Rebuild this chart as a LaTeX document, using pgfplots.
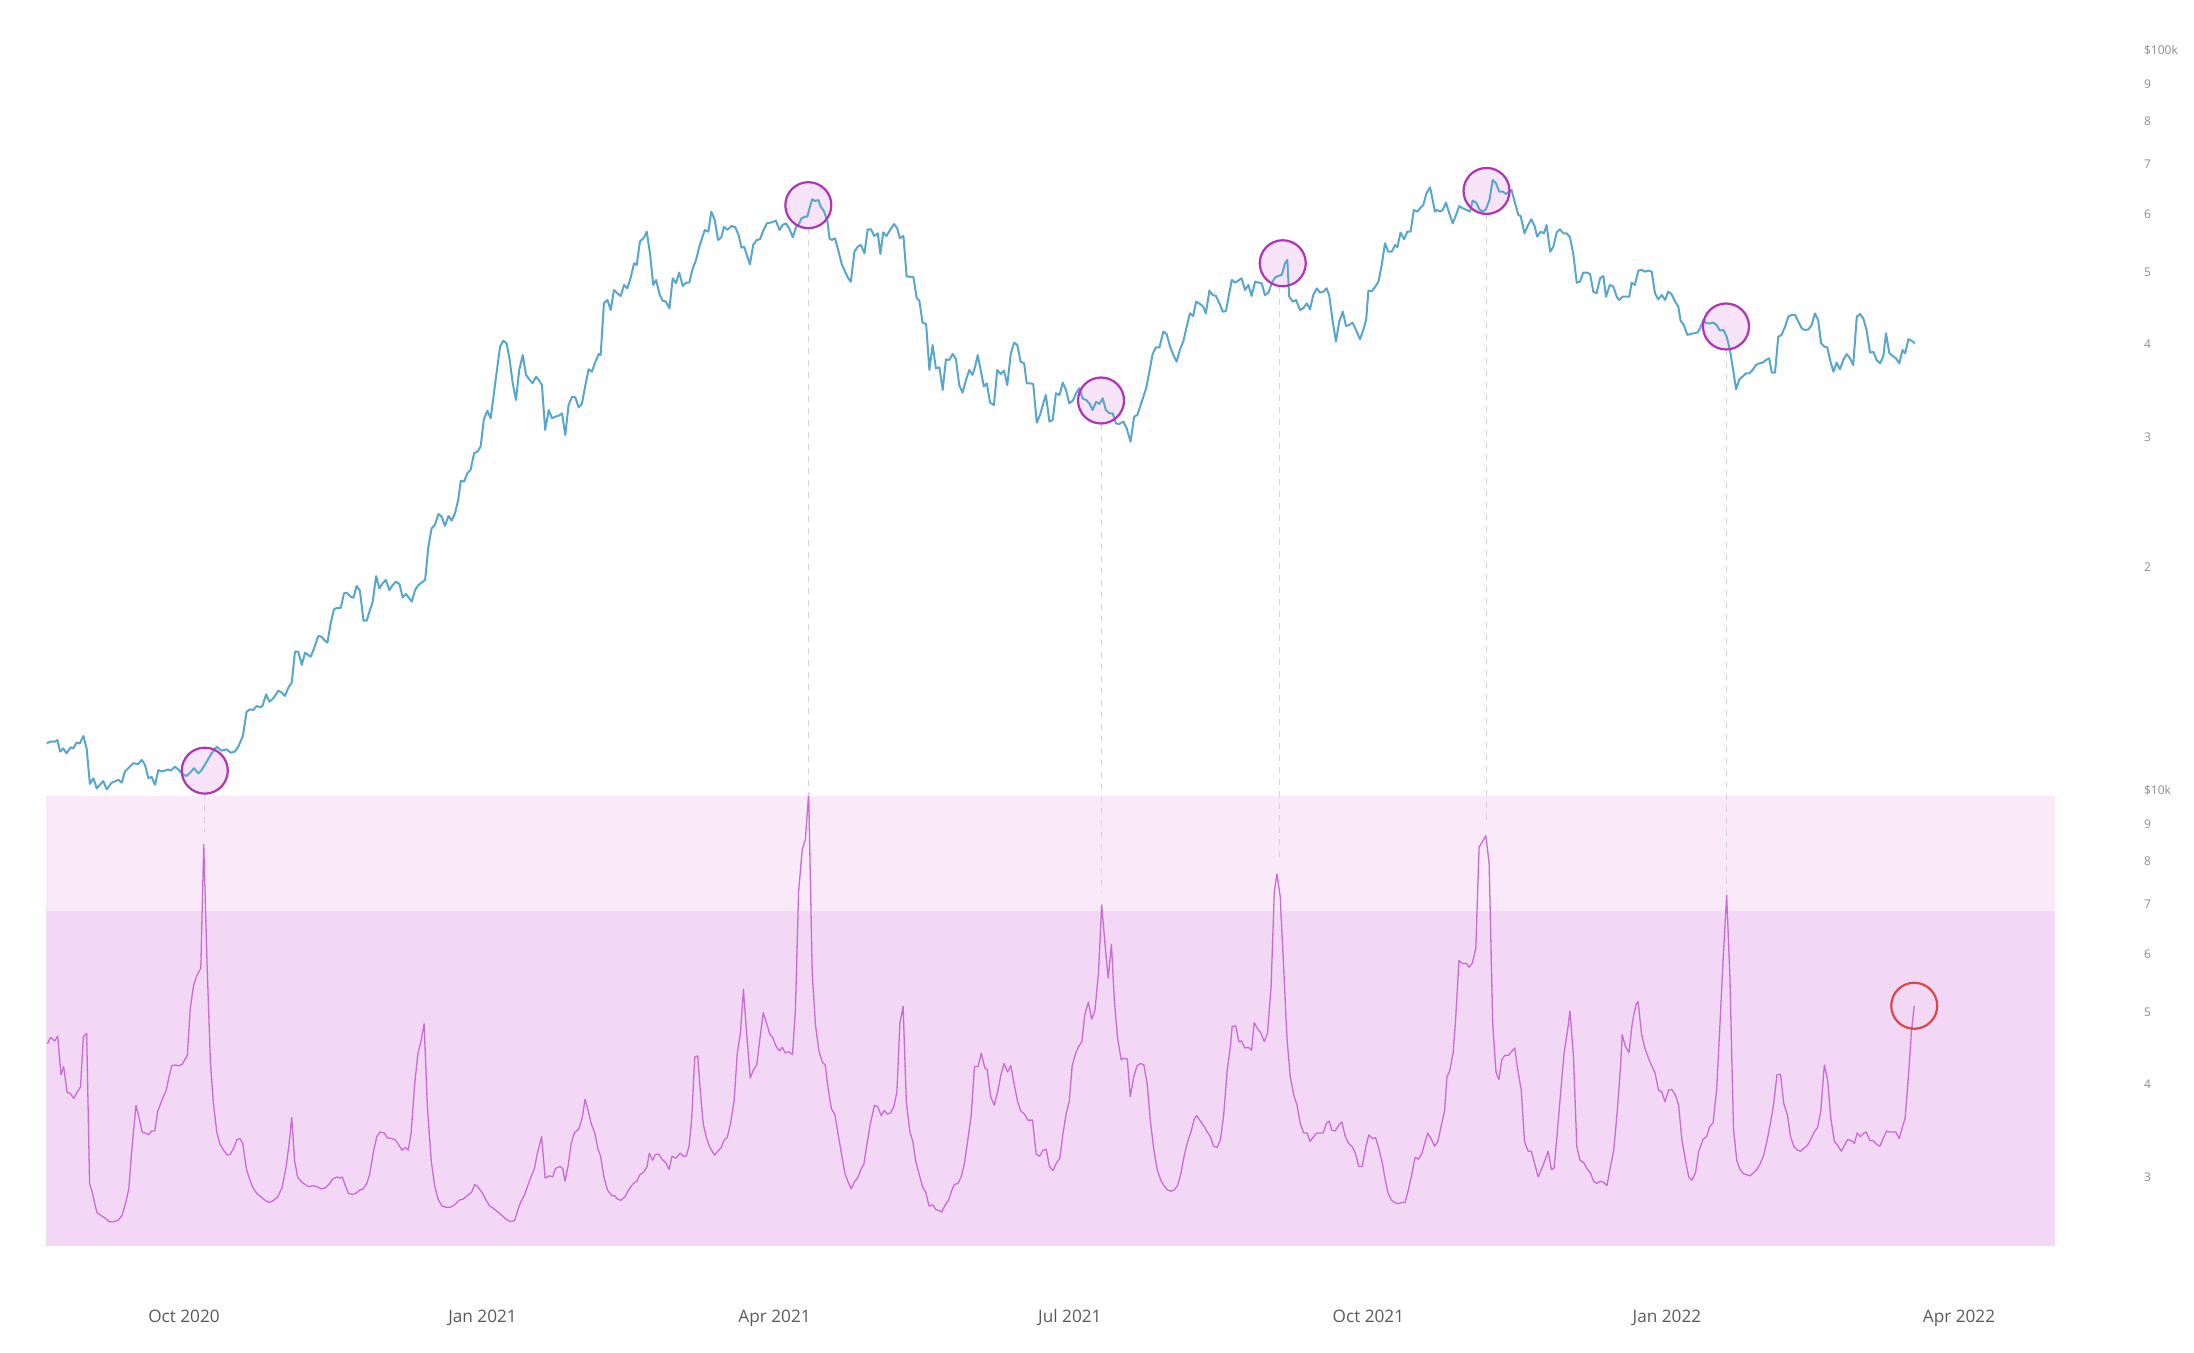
\documentclass[border=0pt]{standalone}
\usepackage{pgfplots}
\pgfplotsset{compat=1.18}
\usepackage{fontspec}
\setmainfont{Open Sans}
\definecolor{btc}{RGB}{88,166,204}
\definecolor{ind}{RGB}{200,108,212}
\definecolor{bandlight}{RGB}{249,233,249}
\definecolor{banddark}{RGB}{243,216,245}
\definecolor{circ}{RGB}{176,52,184}
\definecolor{circfill}{RGB}{248,228,248}
\definecolor{redc}{RGB}{214,72,76}
\definecolor{dashc}{RGB}{212,212,212}
\definecolor{xlab}{RGB}{90,90,90}
\definecolor{ylab}{RGB}{140,140,140}
\begin{document}
\begin{tikzpicture}
\path[use as bounding box] (0,0) rectangle (1097pt,676.5pt);
% ---------------- lower panel ----------------
\begin{axis}[
  at={(23pt,53.25pt)}, anchor=south west,
  scale only axis, width=1004.5pt, height=228.25pt,
  xmin=-42.53, xmax=576.58,
  ymode=log, ymin=2.4161, ymax=10,
  axis line style={draw=none}, tick style={draw=none},
  clip=false,
  xtick={0,92,182,273,365,457,547},
  xticklabels={Oct 2020,Jan 2021,Apr 2021,Jul 2021,Oct 2021,Jan 2022,Apr 2022},
  xticklabel style={anchor=base, yshift=-38.1pt, font=\fontsize{8.6}{10}\selectfont, text=xlab},
  ytick={3,4,5,6,7,8,9,10},
  yticklabels={3,4,5,6,7,8,9,\$10k},
  yticklabel pos=right,
  yticklabel style={anchor=west, xshift=41pt, font=\fontsize{6}{7}\selectfont, text=ylab},
]
\addplot[draw=none, fill=bandlight] coordinates {(-42.53,2.4161) (576.58,2.4161) (576.58,9.81) (-42.53,9.81)} -- cycle;
\addplot[draw=none, fill=banddark] coordinates {(-42.53,2.4161) (576.58,2.4161) (576.58,6.86) (-42.53,6.86)} -- cycle;
\addplot[ind, line width=0.65pt, line join=round] table {
-42.05 4.54
-41.14 4.63
-39.84 4.58
-38.93 4.65
-37.9 4.12
-37.1 4.23
-36.0 3.90
-35.0 3.89
-34.0 3.83
-33.0 3.90
-31.9 3.97
-31.0 4.64
-30.0 4.69
-29.1 2.94
-28.2 2.85
-26.9 2.69
-25.6 2.66
-24.3 2.64
-23.0 2.61
-21.7 2.61
-20.4 2.62
-19.1 2.66
-18.05 2.76
-17.0 2.89
-16.1 3.26
-14.8 3.75
-13.8 3.60
-12.9 3.45
-11.95 3.44
-10.9 3.42
-10.0 3.46
-9.0 3.46
-8.1 3.68
-6.8 3.81
-5.47 3.93
-4.8 4.06
-3.8 4.24
-2.9 4.25
-1.6 4.24
-0.54 4.26
0.37 4.33
1.02 4.38
1.93 5.07
2.96 5.45
4.0 5.62
5.17 5.74
6.08 8.44
7.1 5.83
8.15 4.27
9.06 3.77
10.1 3.45
11.1 3.32
12.2 3.26
13.34 3.21
14.25 3.22
15.3 3.28
16.3 3.37
17.2 3.38
18.1 3.33
19.2 3.08
20.1 2.99
21.1 2.91
22.4 2.85
23.7 2.82
25.0 2.79
26.3 2.77
27.6 2.79
28.9 2.82
30.2 2.90
31.5 3.10
32.4 3.33
33.2 3.61
34.1 3.15
35.0 3.00
36.0 2.96
37.3 2.93
38.6 2.91
39.7 2.92
41.0 2.91
42.3 2.89
43.6 2.90
44.9 2.94
45.8 2.98
47.1 3.00
48.0 2.99
48.8 3.00
49.7 2.92
50.7 2.85
52.0 2.84
52.9 2.85
54.2 2.88
55.2 2.89
56.3 2.94
57.2 3.02
58.3 3.23
59.4 3.40
60.4 3.45
61.7 3.44
62.6 3.39
63.9 3.38
65.0 3.37
65.9 3.33
67.2 3.26
68.2 3.29
69.1 3.26
70.0 3.44
71.1 4.01
72.1 4.41
73.0 4.57
74.0 4.83
75.0 3.73
76.2 3.15
77.3 2.91
78.3 2.80
79.5 2.74
80.8 2.73
82.1 2.73
83.4 2.75
84.7 2.79
86.0 2.80
87.3 2.83
88.6 2.86
89.6 2.93
90.5 2.91
91.8 2.86
93.1 2.79
94.2 2.74
95.4 2.72
96.7 2.69
98.0 2.66
99.3 2.63
100.6 2.61
101.9 2.62
102.8 2.70
103.7 2.77
105.0 2.84
105.8 2.91
106.7 2.98
108.0 3.08
108.9 3.23
110.2 3.40
111.3 2.99
112.6 3.01
113.6 3.00
114.5 3.08
115.8 3.10
116.7 3.08
117.4 2.96
118.4 3.11
119.3 3.33
120.3 3.44
121.6 3.48
122.7 3.60
123.6 3.82
124.6 3.68
125.5 3.54
126.6 3.44
127.5 3.28
128.4 3.20
129.4 3.00
130.5 2.88
131.8 2.83
132.7 2.83
133.6 2.80
134.6 2.79
135.9 2.82
137.2 2.89
138.5 2.94
139.5 2.96
140.5 3.02
141.8 3.05
142.7 3.10
143.4 3.23
144.4 3.16
145.3 3.22
146.3 3.22
147.3 3.17
148.6 3.13
149.5 3.07
150.4 3.20
151.5 3.18
152.9 3.23
153.9 3.20
154.8 3.20
155.7 3.31
156.5 3.62
157.4 4.36
158.3 4.37
159.1 3.93
160.0 3.54
160.9 3.40
161.9 3.30
163.5 3.21
164.5 3.25
165.6 3.29
166.5 3.37
167.4 3.39
168.4 3.54
169.5 3.79
170.5 4.41
171.5 4.71
172.4 5.38
173.3 4.74
174.5 4.08
175.5 4.19
176.5 4.25
177.5 4.62
178.5 5.00
179.6 4.83
180.6 4.67
181.4 4.63
182.4 4.51
183.5 4.44
184.4 4.49
185.3 4.41
186.3 4.43
187.5 4.39
188.4 5.02
189.4 7.29
190.5 8.30
191.5 8.58
192.5 9.90
193.6 5.65
194.6 4.81
195.7 4.43
196.7 4.29
197.6 4.25
198.5 3.95
199.5 3.71
200.6 3.64
201.6 3.42
202.7 3.21
203.7 3.03
204.7 2.95
205.6 2.89
206.7 2.96
207.6 2.99
208.6 3.07
209.5 3.12
210.6 3.35
211.5 3.54
212.8 3.75
213.8 3.73
214.9 3.63
215.8 3.69
216.7 3.65
217.7 3.66
218.7 3.73
219.7 3.91
220.6 4.84
221.6 5.10
222.6 3.79
223.7 3.45
224.6 3.35
225.5 3.15
226.5 3.03
227.6 2.91
228.6 2.86
229.6 2.74
230.7 2.75
231.7 2.71
232.8 2.70
233.5 2.69
234.6 2.75
235.6 2.79
236.5 2.87
237.4 2.93
238.5 2.94
239.5 3.00
240.5 3.13
241.6 3.38
242.6 3.64
243.6 4.23
244.7 4.23
245.7 4.41
246.8 4.21
247.5 4.19
248.6 3.85
249.7 3.75
250.8 3.92
251.7 4.11
252.7 4.27
253.8 4.16
254.8 4.24
255.8 4.01
256.9 3.79
257.9 3.68
259.0 3.65
260.0 3.58
261.5 3.58
262.6 3.22
263.7 3.20
264.7 3.26
265.7 3.27
266.7 3.10
267.8 3.06
268.8 3.13
269.9 3.18
270.9 3.44
271.9 3.66
272.8 3.79
273.7 4.24
274.8 4.41
275.8 4.51
276.7 4.57
277.6 4.97
278.7 5.17
279.7 4.90
280.7 5.03
281.8 5.65
282.8 6.99
283.9 6.14
284.8 5.57
285.8 6.19
286.7 5.20
287.7 4.62
288.8 4.32
289.7 4.34
290.7 4.33
291.6 3.85
292.7 4.10
293.7 4.24
294.8 4.27
295.8 4.25
296.8 4.01
297.9 3.54
298.9 3.26
299.9 3.07
301.0 2.97
302.0 2.92
303.1 2.88
304.1 2.87
305.1 2.88
306.2 2.92
307.2 3.03
308.2 3.20
309.3 3.35
310.3 3.45
311.4 3.60
312.1 3.63
313.2 3.57
314.2 3.52
315.2 3.46
316.3 3.40
317.3 3.30
318.4 3.29
319.4 3.37
320.4 3.64
321.5 4.19
322.5 4.51
323.0 4.79
324.1 4.80
325.1 4.57
325.9 4.58
326.9 4.48
328.0 4.49
329.0 4.45
329.8 4.85
330.8 4.76
331.8 4.70
332.9 4.57
333.9 4.69
335.0 5.42
336.0 7.29
336.8 7.70
337.8 7.19
338.9 5.74
339.9 4.62
340.9 4.10
342.0 3.87
343.0 3.75
344.0 3.54
345.1 3.44
346.1 3.44
347.0 3.35
348.1 3.40
349.1 3.44
350.1 3.44
351.1 3.44
352.0 3.54
352.9 3.57
353.7 3.47
354.7 3.46
355.8 3.52
356.8 3.56
357.9 3.40
358.9 3.33
359.9 3.30
361.0 3.23
362.0 3.10
363.1 3.10
364.1 3.28
365.1 3.42
366.2 3.38
367.2 3.39
368.2 3.28
369.3 3.13
370.2 2.97
371.1 2.85
372.1 2.79
373.2 2.77
374.2 2.76
375.2 2.77
376.3 2.77
377.3 2.88
378.4 3.03
379.4 3.19
380.4 3.17
381.5 3.23
382.5 3.35
383.3 3.44
384.3 3.38
385.4 3.30
386.4 3.35
387.4 3.51
388.5 3.69
389.2 4.10
390.0 4.16
391.1 4.41
391.8 4.84
392.9 5.88
393.9 5.83
395.2 5.83
396.0 5.76
397.0 5.83
398.1 6.11
399.1 8.37
400.1 8.51
401.2 8.67
402.2 7.96
403.3 4.84
404.3 4.16
405.2 4.06
406.1 4.32
407.1 4.38
408.2 4.38
409.1 4.43
410.1 4.48
411.0 4.19
412.1 3.93
413.1 3.35
414.2 3.25
415.2 3.25
416.2 3.13
417.3 3.00
418.3 3.07
419.3 3.15
420.4 3.25
421.4 3.07
422.2 3.08
423.2 3.44
424.3 3.93
425.3 4.41
426.4 4.74
427.1 5.03
428.2 4.36
429.2 3.30
430.2 3.16
431.3 3.14
432.3 3.08
433.4 3.04
434.4 2.96
435.4 2.94
436.5 2.96
437.5 2.95
438.5 2.92
439.6 3.10
440.6 3.26
441.7 3.69
442.7 4.23
443.2 4.67
444.2 4.50
445.3 4.42
446.3 4.84
447.4 5.12
448.1 5.18
449.2 4.67
450.2 4.48
451.3 4.34
452.3 4.24
453.3 4.15
454.4 3.93
455.4 3.91
456.4 3.79
457.5 3.93
458.5 3.94
459.6 3.87
460.6 3.75
461.6 3.37
462.7 3.16
463.7 3.00
464.7 2.97
465.8 3.04
466.8 3.25
468.1 3.37
469.2 3.40
470.2 3.51
471.2 3.55
472.3 3.93
473.3 4.79
474.3 5.89
475.4 7.21
476.4 5.59
477.5 3.49
478.5 3.16
479.5 3.07
480.6 3.03
481.6 3.02
482.6 3.01
483.7 3.04
484.7 3.07
485.8 3.13
486.8 3.21
487.8 3.35
488.9 3.55
489.9 3.77
490.9 4.12
492.0 4.13
493.0 3.77
494.1 3.64
495.1 3.40
496.1 3.30
497.2 3.26
498.2 3.25
499.2 3.28
500.3 3.31
501.3 3.37
502.4 3.45
503.4 3.50
504.4 3.68
505.5 4.25
506.5 4.06
507.5 3.60
508.6 3.35
509.6 3.31
510.7 3.25
511.7 3.31
512.7 3.37
513.8 3.36
514.8 3.33
515.6 3.44
516.6 3.40
517.7 3.44
518.4 3.45
519.5 3.36
520.5 3.36
521.6 3.32
522.6 3.30
523.6 3.38
524.7 3.46
525.7 3.45
526.7 3.45
527.5 3.45
528.6 3.38
529.6 3.51
530.4 3.60
531.4 4.10
532.3 4.69
533.2 5.11
};
\addplot[only marks, mark=o, mark size=11.5pt, mark options={draw=redc, line width=1.1pt}] coordinates {(533.2,5.11)};
\end{axis}
% ---------------- upper panel: background (connectors, circle fills) ----------------
\begin{axis}[
  at={(23pt,281.5pt)}, anchor=south west,
  scale only axis, width=1004.5pt, height=370pt,
  xmin=-42.53, xmax=576.58,
  ymode=log, ymin=10, ymax=100,
  axis line style={draw=none}, tick style={draw=none},
  clip=false, xtick=\empty, ytick=\empty,
]
\addplot[dashc, line width=0.5pt, dash pattern=on 3pt off 3pt] coordinates {(6.4,9.91) (6.4,8.77)};
\addplot[dashc, line width=0.5pt, dash pattern=on 3pt off 3pt] coordinates {(192.4,57.4) (192.4,9.81)};
\addplot[dashc, line width=0.5pt, dash pattern=on 3pt off 3pt] coordinates {(282.6,31.2) (282.6,7.26)};
\addplot[dashc, line width=0.5pt, dash pattern=on 3pt off 3pt] coordinates {(337.6,47.8) (337.6,8.04)};
\addplot[dashc, line width=0.5pt, dash pattern=on 3pt off 3pt] coordinates {(401.5,60.0) (401.5,9.05)};
\addplot[dashc, line width=0.5pt, dash pattern=on 3pt off 3pt] coordinates {(475.2,39.3) (475.2,7.26)};
\addplot[only marks, mark=*, mark size=11.5pt, mark options={draw=none, fill=circfill}] coordinates {
(6.4,10.62) (192.4,61.7) (282.6,33.6) (338.6,51.5) (401.4,64.5) (475.2,42.3)};
\end{axis}
% ---------------- upper panel: price ----------------
\begin{axis}[
  at={(23pt,281.5pt)}, anchor=south west,
  scale only axis, width=1004.5pt, height=370pt,
  xmin=-42.53, xmax=576.58,
  ymode=log, ymin=10, ymax=100,
  axis line style={draw=none}, tick style={draw=none},
  clip=false,
  xtick=\empty,
  ytick={20,30,40,50,60,70,80,90,100},
  yticklabels={2,3,4,5,6,7,8,9,\$100k},
  yticklabel pos=right,
  yticklabel style={anchor=west, xshift=41pt, font=\fontsize{6}{7}\selectfont, text=ylab},
]
\addplot[btc, line width=1pt, line join=round] table {
-42.3 11.56
-41.3 11.62
-39.8 11.62
-39.0 11.68
-38.2 11.27
-37.2 11.38
-36.2 11.21
-34.9 11.42
-34.1 11.38
-33.1 11.59
-32.1 11.56
-31.0 11.83
-30.0 11.38
-29.0 10.19
-27.9 10.37
-26.9 10.05
-24.9 10.28
-23.8 10.02
-22.3 10.23
-20.2 10.32
-19.2 10.23
-18.2 10.59
-17.2 10.70
-15.6 10.87
-14.1 10.84
-13.0 10.98
-12.0 10.81
-11.0 10.37
-10.0 10.42
-8.94 10.16
-7.91 10.64
-6.89 10.59
-4.83 10.66
-4.11 10.62
-2.78 10.75
-1.75 10.66
-0.21 10.48
0.82 10.45
1.84 10.55
3.08 10.70
4.41 10.53
5.44 10.64
6.98 10.92
8.52 11.21
10.06 11.44
11.6 11.30
13.1 11.35
14.4 11.23
15.7 11.27
16.7 11.44
18.1 11.81
19.3 12.76
20.3 12.85
21.4 12.83
22.4 12.99
23.4 12.93
24.2 12.99
25.3 13.47
26.3 13.16
27.5 13.30
29.1 13.62
30.1 13.54
31.1 13.40
32.2 13.76
33.2 13.97
34.2 15.38
35.2 15.38
36.3 14.76
37.3 15.33
39.0 15.14
39.9 15.46
41.4 16.15
42.4 16.11
43.4 15.92
44.2 15.82
45.2 16.80
46.2 17.54
47.0 17.62
48.3 17.62
49.3 18.44
50.1 18.48
51.4 18.25
52.2 18.19
53.2 18.87
54.2 18.60
55.3 16.94
56.3 16.94
57.3 17.51
58.1 17.91
59.2 19.46
60.2 18.73
61.2 19.02
62.2 19.22
63.3 18.63
64.3 18.92
65.3 19.12
66.4 18.98
67.4 18.21
68.4 18.40
70.2 17.97
71.2 18.63
72.2 18.92
74.3 19.22
75.3 21.32
76.3 22.57
77.3 22.81
78.4 23.60
79.4 23.41
80.4 22.74
81.5 23.46
82.5 23.12
83.5 23.65
84.5 24.65
85.3 26.18
86.3 26.10
87.3 26.79
88.3 27.07
89.4 28.51
90.4 28.65
91.4 29.10
92.4 31.69
93.5 32.55
94.5 31.79
95.5 34.36
96.3 36.57
97.4 39.72
98.4 40.47
99.4 40.14
100.3 38.31
101.3 35.45
102.3 33.65
103.3 36.95
104.4 38.71
105.4 36.38
106.4 35.89
107.4 35.45
108.5 36.19
109.5 35.74
110.3 35.26
111.3 30.65
112.4 32.62
113.4 31.79
114.4 31.95
115.5 32.05
116.5 32.29
117.5 30.18
118.5 33.13
119.6 34.00
120.6 33.93
121.6 32.90
122.6 33.24
123.7 35.26
124.7 37.03
125.7 36.76
126.8 37.92
127.8 38.83
128.4 38.71
129.4 45.46
130.5 45.94
131.5 44.53
132.5 47.39
133.5 46.90
134.6 46.52
135.6 48.14
136.6 47.64
137.6 49.15
138.7 51.49
139.5 51.22
140.5 55.08
141.8 55.83
142.6 56.82
143.6 53.12
144.6 48.14
145.5 48.89
146.5 46.80
147.5 45.84
148.5 45.70
149.6 44.76
150.6 49.15
151.6 48.39
152.6 50.02
153.7 47.99
154.7 48.48
155.7 48.48
156.8 50.70
157.8 52.02
158.8 54.22
159.8 55.95
160.5 57.12
161.6 56.82
162.5 60.47
163.5 59.04
164.6 55.37
165.6 55.83
166.4 57.71
167.4 57.12
168.8 57.84
169.9 57.59
170.9 56.23
171.8 54.05
172.6 54.22
173.6 52.57
174.4 51.33
175.4 54.51
176.5 55.37
177.5 55.49
178.5 57.00
179.6 58.31
181.1 58.49
182.4 58.80
183.5 57.12
184.5 58.01
185.5 58.31
186.5 57.41
187.6 55.83
188.6 57.59
189.6 58.31
190.3 59.23
191.4 59.54
192.1 59.54
192.9 61.42
193.6 62.84
194.5 62.51
195.5 62.71
196.2 61.42
197.2 60.59
198.3 58.62
198.9 55.66
199.6 55.37
200.6 55.66
201.6 53.67
202.7 51.33
203.7 50.17
204.7 49.15
205.5 48.64
206.6 53.39
207.6 54.22
208.6 54.51
209.7 53.12
210.7 57.24
211.7 57.24
212.7 56.06
213.8 56.53
214.6 53.01
215.5 56.70
216.5 56.06
217.6 57.12
218.8 58.19
219.8 57.41
220.6 55.66
221.7 56.06
222.7 49.40
223.7 49.40
224.8 49.30
225.8 46.18
226.6 45.84
227.6 42.81
228.7 42.63
229.7 36.95
230.7 39.93
231.7 37.14
232.8 37.26
233.8 34.72
234.8 38.19
235.8 38.11
236.9 38.83
237.9 38.19
238.9 35.26
239.9 34.43
241.0 35.82
242.0 36.95
243.0 36.38
243.8 37.33
244.6 38.71
245.5 36.95
246.5 35.08
247.4 35.45
248.4 33.37
249.6 33.13
250.6 36.95
251.7 36.49
252.7 36.87
253.7 35.26
254.8 38.91
255.8 40.22
256.8 39.93
257.8 37.92
258.9 37.72
259.7 35.45
260.7 35.45
261.7 35.37
262.8 31.36
263.8 32.12
264.8 33.31
265.6 34.18
266.7 31.46
267.7 31.62
268.7 34.36
269.8 34.18
270.8 35.52
271.8 34.72
272.8 33.31
273.9 33.58
274.9 34.36
275.9 34.90
276.9 33.83
278.0 33.65
279.0 33.31
280.0 32.62
281.1 33.48
282.1 33.24
283.1 33.83
284.1 32.62
285.2 32.29
286.2 32.29
287.2 31.29
288.2 31.23
289.5 31.46
290.5 30.81
291.7 29.56
292.8 31.95
293.8 32.12
294.8 33.13
296.5 34.90
297.5 36.76
298.5 38.83
299.5 39.65
300.6 39.65
301.8 41.63
302.8 41.33
303.9 39.72
304.9 38.71
305.9 37.92
306.9 39.33
308.0 40.47
309.0 42.28
310.0 44.07
311.0 43.71
311.9 45.70
313.1 45.37
314.1 45.00
314.9 44.07
316.0 47.29
317.0 46.65
318.0 46.52
319.1 45.46
320.1 44.30
321.1 44.39
322.1 46.90
322.9 48.89
323.9 48.48
324.9 48.79
325.9 49.15
327.0 47.39
328.0 48.14
329.0 46.52
330.1 48.64
331.1 48.48
332.1 48.39
333.1 46.65
334.2 47.00
335.2 48.39
336.2 49.25
337.2 49.50
338.3 49.66
339.3 51.49
340.0 52.02
340.6 46.41
341.7 45.70
342.7 45.94
343.9 44.53
344.9 44.76
346.0 45.46
347.0 44.62
348.0 46.65
349.1 47.64
350.1 47.00
351.1 47.14
352.1 47.64
352.9 46.65
354.0 42.94
355.0 40.35
356.0 42.94
357.1 44.30
358.1 42.37
359.1 42.50
360.1 42.81
361.4 41.63
362.4 40.65
363.4 41.84
364.3 43.17
365.0 47.29
366.0 47.20
367.0 47.79
368.1 48.64
369.1 51.22
370.1 54.80
371.1 53.39
372.2 53.39
373.2 54.51
373.9 54.11
374.9 56.65
376.0 55.49
377.0 56.82
378.0 56.82
379.0 60.78
380.1 60.47
380.9 61.10
381.9 61.73
382.9 64.03
384.0 65.23
384.8 62.71
385.5 60.47
386.2 60.78
387.1 60.47
387.9 60.78
388.9 62.19
389.9 60.16
391.0 58.31
392.0 59.85
393.0 61.54
394.0 61.10
395.3 60.78
396.3 60.47
397.1 62.58
398.2 62.19
399.2 60.90
400.2 60.47
401.2 60.90
402.3 62.71
403.3 66.74
404.3 66.05
405.3 64.36
406.4 64.36
407.4 63.89
408.4 64.36
409.1 64.69
410.2 62.06
411.2 59.85
411.9 59.67
413.1 56.53
414.2 58.01
415.2 59.04
416.2 57.84
417.0 55.95
418.1 56.82
419.1 56.53
419.9 58.01
421.0 53.39
422.0 54.22
423.0 56.65
424.0 57.24
425.1 56.53
426.1 56.53
427.1 55.83
428.1 53.12
429.2 48.48
430.2 48.64
431.2 50.02
432.3 50.02
433.3 49.81
434.3 47.14
435.3 46.90
436.4 49.15
437.4 49.50
438.2 46.41
439.4 48.14
440.5 47.89
441.5 46.41
442.3 45.94
443.3 46.41
444.4 46.41
445.4 46.41
446.1 48.48
447.1 48.14
448.2 50.34
449.2 50.44
450.2 50.17
451.3 50.34
452.3 50.17
453.3 46.90
454.3 46.03
455.4 46.65
456.4 45.94
457.4 47.14
458.4 46.80
459.5 45.70
460.5 45.00
461.2 43.07
462.2 42.50
463.3 41.20
464.3 41.33
465.3 41.42
466.4 41.51
467.2 42.07
468.2 43.17
469.2 42.72
470.3 42.72
471.3 42.81
472.3 42.50
473.3 41.76
474.4 41.84
475.4 40.98
476.4 39.33
477.4 36.95
478.3 34.79
479.3 35.89
480.3 36.19
481.4 36.57
482.4 36.57
483.4 36.95
484.4 37.52
485.5 37.72
486.5 37.80
487.5 38.11
488.5 38.31
489.3 36.64
490.3 36.64
491.3 40.98
492.3 41.20
493.4 42.28
494.4 43.61
495.4 43.84
496.5 43.84
497.5 42.94
498.5 42.07
499.5 41.84
500.6 41.92
501.6 42.50
502.6 44.07
503.6 43.17
504.5 40.14
505.5 39.72
506.4 39.65
507.4 37.92
508.3 36.76
509.3 37.80
510.3 37.03
511.3 38.11
512.4 38.83
513.4 38.31
514.4 37.52
515.5 43.61
516.5 43.98
517.5 43.39
518.5 41.84
519.6 38.99
520.6 39.11
521.6 38.11
522.7 37.72
523.7 38.59
524.5 41.42
525.5 38.99
526.5 38.59
527.6 38.31
528.6 37.72
529.6 39.33
530.4 38.91
531.4 40.65
532.4 40.47
533.4 40.14
};
\addplot[only marks, mark=o, mark size=11.5pt, mark options={draw=circ, line width=1.1pt}] coordinates {
(6.4,10.62) (192.4,61.7) (282.6,33.6) (338.6,51.5) (401.4,64.5) (475.2,42.3)};
\end{axis}
\end{tikzpicture}
\end{document}
